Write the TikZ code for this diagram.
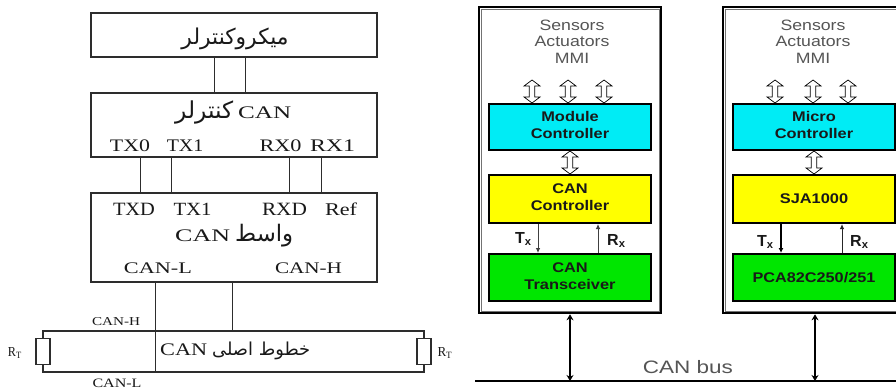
\documentclass[tikz,border=0pt]{standalone}
\usepackage{fontspec}
\setmainfont{Liberation Serif}
\newfontfamily\sansf{Liberation Sans}
\newfontfamily\arabicfont[Script=Arabic]{DejaVu Sans}
\TeXXeTstate=1
\usetikzlibrary{arrows.meta,calc}
\definecolor{cyanbox}{RGB}{0,236,245}
\definecolor{yellowbox}{RGB}{255,255,0}
\definecolor{greenbox}{RGB}{0,230,0}
\definecolor{lineg}{RGB}{45,45,45}
\definecolor{senscol}{RGB}{85,85,85}
\newcommand\fitb[3]{\resizebox{#1pt}{#2pt}{#3}}
\newcommand\fitw[2]{\resizebox{#1pt}{!}{#2}}
\newcommand\hsc[2]{\scalebox{#1}[1]{#2}}
\newcommand\twol[2]{\hsc{1.17}{\begin{tabular}{@{}c@{}}#1\\#2\end{tabular}}}
\begin{document}
\begin{tikzpicture}[x=1pt,y=-1pt,
 lbox/.style={draw=lineg, line width=1.5pt, minimum width=286pt, inner sep=0pt},
 wire/.style={draw=lineg, line width=1.5pt},
 ltxt/.style={inner sep=0pt, anchor=base, text=black!90},
 res/.style={draw=lineg, line width=1.2pt, fill=white, minimum width=14pt, minimum height=26pt, inner sep=0pt},
 outerbox/.style={draw=black, line width=2.6pt, minimum height=306pt, inner sep=0pt},
 innerline/.style={draw=black!55, line width=0.6pt},
 cbox/.style={draw=black, line width=2pt, minimum width=162pt, inner sep=0pt, font=\sansf\bfseries\fontsize{14}{16.7}\selectfont, text=black!90},
 sens/.style={inner sep=0pt, text=senscol, font=\sansf\fontsize{15}{16.4}\selectfont},
 hollow/.style={draw=black, fill=white, line width=0.7pt, line join=miter, to path={
   let \p1=(\tikztostart), \p2=(\tikztotarget) in
   (\x1,\y1) -- (\x1+8pt,\y1-6pt) -- (\x1+2.8pt,\y1-6pt) -- (\x2+2.8pt,\y2+6pt) -- (\x2+8pt,\y2+6pt)
   -- (\x2,\y2) -- (\x2-8pt,\y2+6pt) -- (\x2-2.8pt,\y2+6pt) -- (\x1-2.8pt,\y1-6pt) -- (\x1-8pt,\y1-6pt) -- cycle}},
 sigthin/.style={draw=black!75, line width=0.8pt, -{Latex[length=5pt,width=4.5pt]}},
 sigthick/.style={draw=black, line width=1.6pt, -{Latex[length=5pt,width=5pt]}},
 txlab/.style={inner sep=0pt, anchor=base west, font=\sansf\bfseries\fontsize{16}{16}\selectfont, text=black!90},
 busarr/.style={draw=black, line width=2.2pt, {Stealth[length=6pt,width=7pt]}-{Stealth[length=6pt,width=7pt]}},
]
\useasboundingbox (0,0) rectangle (896,390);
\clip (0,0) rectangle (896,390);
\fill[white] (0,0) rectangle (896,390);

%% ---------------- left diagram ----------------
\node[lbox, minimum height=44pt] (micro) at (234,35) {};
\node[inner sep=0pt, text=black!90] (microt) at (235,38.5) {\fitw{107}{\arabicfont\beginR میکروکنترلر\endR}};

\node[lbox, minimum height=64pt] (canctl) at (234,125) {};
\node[ltxt, anchor=base west] (canctlt) at (175,118.3) {\fitw{58}{\arabicfont\beginR کنترلر\endR}\hspace{5pt}\fitb{53}{11.7}{CAN}};
\node[ltxt] (tx0) at (130,151.7) {\fitb{40}{11.7}{TX0}};
\node[ltxt] (tx1) at (185,151.7) {\fitb{36.5}{11.7}{TX1}};
\node[ltxt] (rx0) at (280.5,151.7) {\fitb{42}{11.7}{RX0}};
\node[ltxt] (rx1) at (332.5,151.7) {\fitb{45}{11.7}{RX1}};

\node[lbox, minimum height=89pt] (xcvr) at (234,237.5) {};
\node[ltxt] (txd) at (134,215) {\fitb{42}{12.3}{TXD}};
\node[ltxt] (txone) at (192.5,215) {\fitb{38}{12.3}{TX1}};
\node[ltxt] (rxd) at (284.5,215) {\fitb{45}{12.3}{RXD}};
\node[ltxt] (ref) at (341,215) {\fitb{32}{12.6}{Ref}};
\node[ltxt, anchor=base west] (xcvrt) at (175,241.7) {\fitb{55}{11.7}{CAN}\hspace{5pt}\fitw{58}{\arabicfont\beginR واسط\endR}};
\node[ltxt] (canl) at (158,273) {\fitb{68}{10.7}{CAN-L}};
\node[ltxt] (canh) at (308.5,273) {\fitb{67}{10.7}{CAN-H}};

% wires between boxes
\draw[wire] ($(micro.south west)+(124,0)$) -- ($(canctl.north west)+(124,0)$);
\draw[wire] ($(micro.south west)+(155,0)$) -- ($(canctl.north west)+(155,0)$);
\draw[wire] ($(canctl.south west)+(50,0)$) -- ($(xcvr.north west)+(50,0)$);
\draw[wire] ($(canctl.south west)+(81,0)$) -- ($(xcvr.north west)+(81,0)$);
\draw[wire] ($(canctl.south west)+(199,0)$) -- ($(xcvr.north west)+(199,0)$);
\draw[wire] ($(canctl.south west)+(231,0)$) -- ($(xcvr.north west)+(231,0)$);

% bus lines
\coordinate (hTL) at (43,331);
\coordinate (hTR) at (424,331);
\coordinate (lBL) at (43,372);
\coordinate (lBR) at (424,372);
\node[res] (rl) at (43,351.5) {};
\node[res] (rr) at (424,351.5) {};
\draw[wire] (rl.north) -- (hTL) -- (hTR) -- (rr.north);
\draw[wire] (rl.south) -- (lBL) -- (lBR) -- (rr.south);
\coordinate (tapL) at ($(xcvr.south west)+(65,0)$);
\coordinate (tapH) at ($(xcvr.south west)+(142,0)$);
\draw[wire] (tapL) -- (tapL |- lBL);
\draw[wire] (tapH) -- (tapH |- hTL);
\node[ltxt] (lblh) at (116,325) {\fitb{48}{8}{CAN-H}};
\node[ltxt] (lbll) at (117,387) {\fitb{49}{8.5}{CAN-L}};
\node[ltxt] (rtl) at (15,356) {\fitb{14}{9}{R\textsubscript{T}}};
\node[ltxt] (rtr) at (445,356) {\fitb{15}{9}{R\textsubscript{T}}};
\node[ltxt, anchor=base west] (bust) at (160,355) {\fitb{47}{11.7}{CAN}\hspace{5pt}\fitw{98}{\arabicfont\beginR خطوط اصلی\endR}};

%% ---------------- right diagram ----------------
% module 1
\node[outerbox, minimum width=182pt] (out1) at (570,160) {};
\draw[innerline] ([shift={(3.5,3.5)}]out1.north west) rectangle ([shift={(-3.5,-3.5)}]out1.south east);
\node[sens] (sens1) at (572,43.4) {\hsc{1.18}{\begin{tabular}{@{}c@{}}Sensors\\Actuators\\MMI\end{tabular}}};
\node[cbox, fill=cyanbox, minimum height=46pt] (mc1) at (570,127) {\twol{Module}{Controller}};
\node[cbox, fill=yellowbox, minimum height=48pt] (cc1) at (570,199) {\twol{CAN}{Controller}};
\node[cbox, fill=greenbox, minimum height=47pt] (tr1) at (570,277.5) {\twol{CAN}{Transceiver}};
\coordinate (a11) at (532,80);
\coordinate (a12) at (568,80);
\coordinate (a13) at (604,80);
\draw[hollow] (a11) to (a11 |- mc1.north);
\draw[hollow] (a12) to (a12 |- mc1.north);
\draw[hollow] (a13) to (a13 |- mc1.north);
\draw[hollow] (mc1.south) to (cc1.north);
\draw[sigthin] ($(cc1.south west)+(50,0)$) -- ($(tr1.north west)+(50,0)$);
\draw[sigthin] ($(tr1.north west)+(110,0)$) -- ($(cc1.south west)+(110,0)$);
\node[txlab] (tx1l) at (515,243) {T\textsubscript{x}};
\node[txlab] (rx1l) at (607,245) {R\textsubscript{x}};

% module 2
\node[outerbox, minimum width=184pt] (out2) at (815,160) {};
\draw[innerline] ([shift={(3.5,3.5)}]out2.north west) rectangle ([shift={(-3.5,-3.5)}]out2.south east);
\node[sens] (sens2) at (813,43.4) {\hsc{1.18}{\begin{tabular}{@{}c@{}}Sensors\\Actuators\\MMI\end{tabular}}};
\node[cbox, fill=cyanbox, minimum height=46pt] (mc2) at (814,127) {\twol{Micro}{Controller}};
\node[cbox, fill=yellowbox, minimum height=48pt] (cc2) at (814,199) {\hsc{1.17}{SJA1000}};
\node[cbox, fill=greenbox, minimum height=47pt] (tr2) at (814,277.5) {\hsc{1.16}{PCA82C250/251}};
\coordinate (a21) at (775,80);
\coordinate (a22) at (813,80);
\coordinate (a23) at (848,80);
\draw[hollow] (a21) to (a21 |- mc2.north);
\draw[hollow] (a22) to (a22 |- mc2.north);
\draw[hollow] (a23) to (a23 |- mc2.north);
\draw[hollow] (mc2.south) to (cc2.north);
\draw[sigthick] ($(cc2.south west)+(49,0)$) -- ($(tr2.north west)+(49,0)$);
\draw[sigthin, draw=black!85, line width=1pt] ($(tr2.north west)+(110,0)$) -- ($(cc2.south west)+(110,0)$);
\node[txlab] (tx2l) at (757,246) {T\textsubscript{x}};
\node[txlab] (rx2l) at (850,246) {R\textsubscript{x}};

% CAN bus
\coordinate (busL) at (475,381);
\coordinate (busR) at (896,381);
\draw[draw=black, line width=2.5pt] (busL) -- (busR);
\draw[busarr] (out1.south) -- (out1.south |- busL);
\draw[busarr] (out2.south) -- (out2.south |- busL);
\node[inner sep=0pt, anchor=base, text=senscol, font=\sansf\fontsize{18}{18}\selectfont] (busname) at (688,373) {\hsc{1.25}{CAN bus}};
\end{tikzpicture}
\end{document}
